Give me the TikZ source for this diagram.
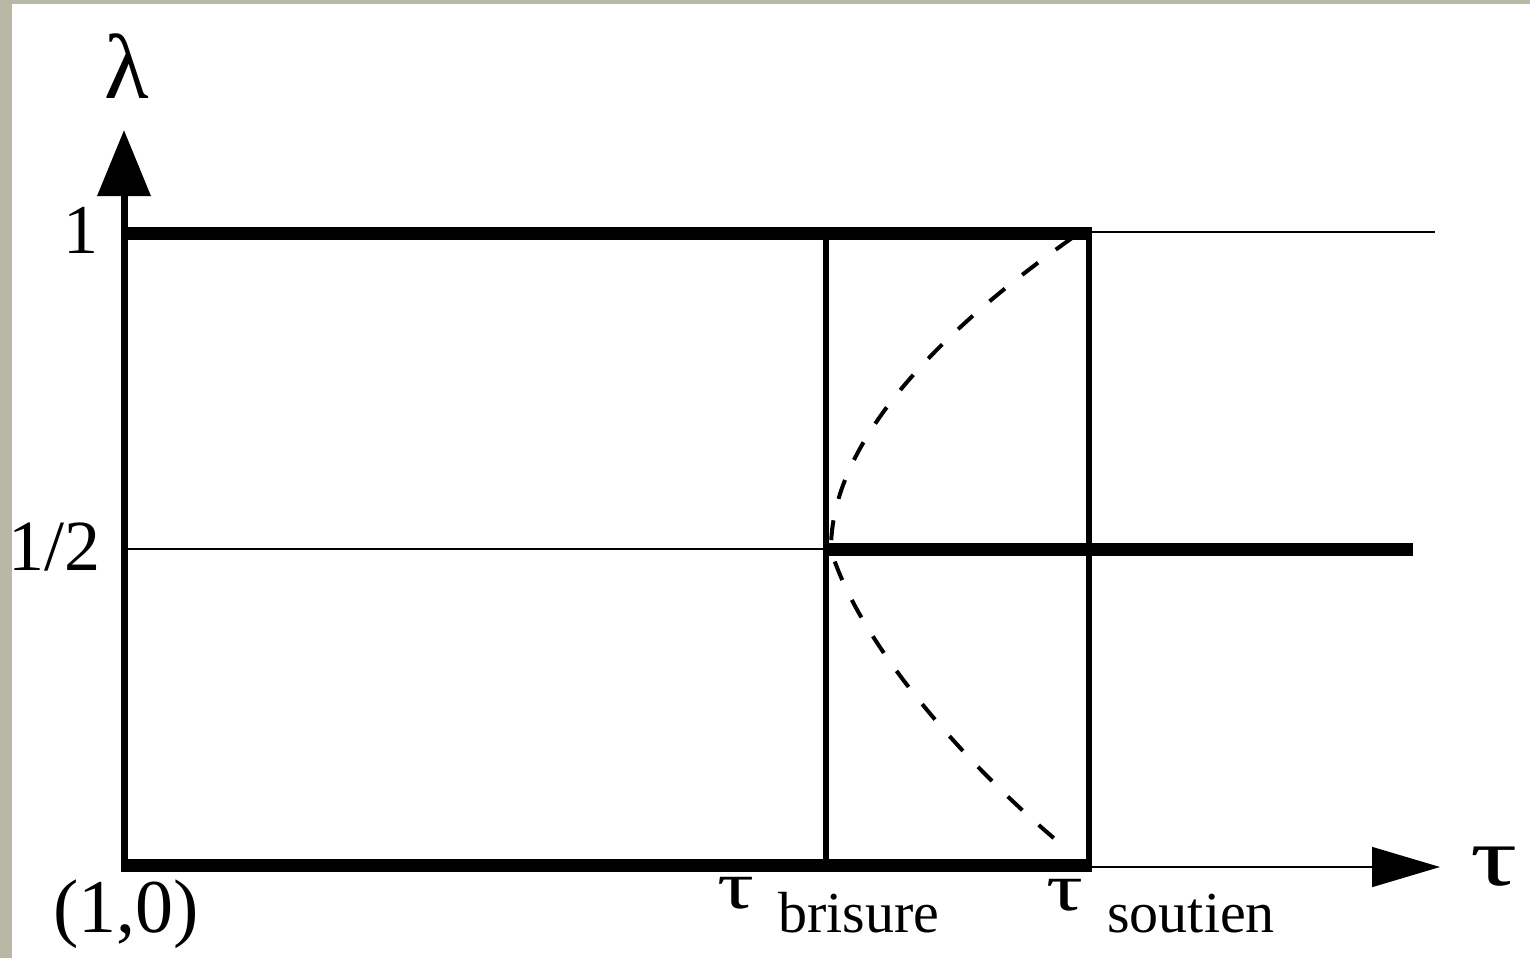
\documentclass[tikz,border=0pt]{standalone}
\usepackage{fontspec}
\setmainfont{Liberation Serif}
\usetikzlibrary{arrows.meta, calc, positioning}
\definecolor{slidegrey}{RGB}{185,183,165}

\begin{document}
\begin{tikzpicture}[x=0.5pt, y=-0.5pt]%{{{
        \useasboundingbox (0, 0) rectangle (1530, 958);
        \fill [white] (0, 0) rectangle (1530, 958);
        \fill [slidegrey] (0, 0) rectangle (12, 958);
        \fill [slidegrey] (0, 0) rectangle (1530, 4);

        \coordinate (O) at (124, 867);
        \coordinate (Ybot) at (124, 872);
        \coordinate (Ytip) at (124, 130);
        \coordinate (Xtip) at (1440, 867);

        % lambda = 1, 1/2, 0 ; columns A (axis), B (brisure), C (soutien)
        \coordinate (A1) at (124, 233);
        \coordinate (B1) at (826, 233);
        \coordinate (C1) at (1089, 233);
        \coordinate (D1) at (1435, 232);
        \coordinate (A2) at (124, 549);
        \coordinate (B2) at (826, 549);
        \coordinate (E2) at (1413, 549);
        \coordinate (A0) at (124, 865);
        \coordinate (B0) at (826, 865);
        \coordinate (C0) at (1089, 865);

        \coordinate (U) at (1072, 238);
        \coordinate (V) at (831, 550);
        \coordinate (L) at (1062, 845);

        \tikzstyle{thin line} = [draw, line width=0.75pt];
        \tikzstyle{thick line} = [draw, line width=6.5pt];
        \tikzstyle{v} = [draw, line width=3pt];
        \tikzstyle{d} = [draw, line width=2pt, dash pattern=on 10pt off 11pt];

        \draw [thin line] ($(C1) + (0, -1)$) -- (D1);
        \draw [thin line] (A2) -- (B2);
        \draw [thin line, -{Triangle[length=34pt, width=20pt]}] (O) -- (Xtip);
        \draw [v, line width=3.5pt, -{Triangle[length=33pt, width=26pt]}] (Ybot) -- (Ytip);

        \foreach \c in {B, C}{
            \draw [v] (\c 1) -- (\c 0);
        }

        \draw [thick line] (A1) -- ($(C1) + (3, 0)$);
        \draw [thick line] (B2) -- (E2);
        \draw [thick line] (A0) -- ($(C0) + (3, 0)$);

        \draw [d] (U) .. controls (990, 296) and (830, 420) .. (V)
                      .. controls (858, 640) and (960, 760) .. (L);

        \tikzstyle{lbl} = [inner sep=0pt, anchor=base];
        \node [lbl, font=\fontsize{46}{46}\selectfont] (lambda) at (127, 98) {λ};
        \node [lbl, anchor=base east, font=\fontsize{35}{35}\selectfont] (one) at (99, 253) {1};
        \node [lbl, anchor=base east, font=\fontsize{36}{36}\selectfont] (half) at (101, 570) {1/2};
        \node [lbl, font=\fontsize{38}{38}\selectfont] (origin) at (126, 932) {(1,0)};

        \node [lbl, font=\fontsize{34}{34}\selectfont] (tb) at (736, 908) {\scalebox{1.35}[1]{τ}};
        \node [lbl, anchor=base west, font=\fontsize{29}{29}\selectfont] (brisure) at (778, 932) {brisure};
        \node [lbl, font=\fontsize{34}{34}\selectfont] (ts) at (1065, 910) {\scalebox{1.35}[1]{τ}};
        \node [lbl, anchor=base west, font=\fontsize{29}{29}\selectfont] (soutien) at (1107, 932) {soutien};
        \node [lbl, font=\fontsize{42}{42}\selectfont] (tau) at (1494, 885) {\scalebox{1.4}[1]{τ}};
    \end{tikzpicture}
\end{document}
